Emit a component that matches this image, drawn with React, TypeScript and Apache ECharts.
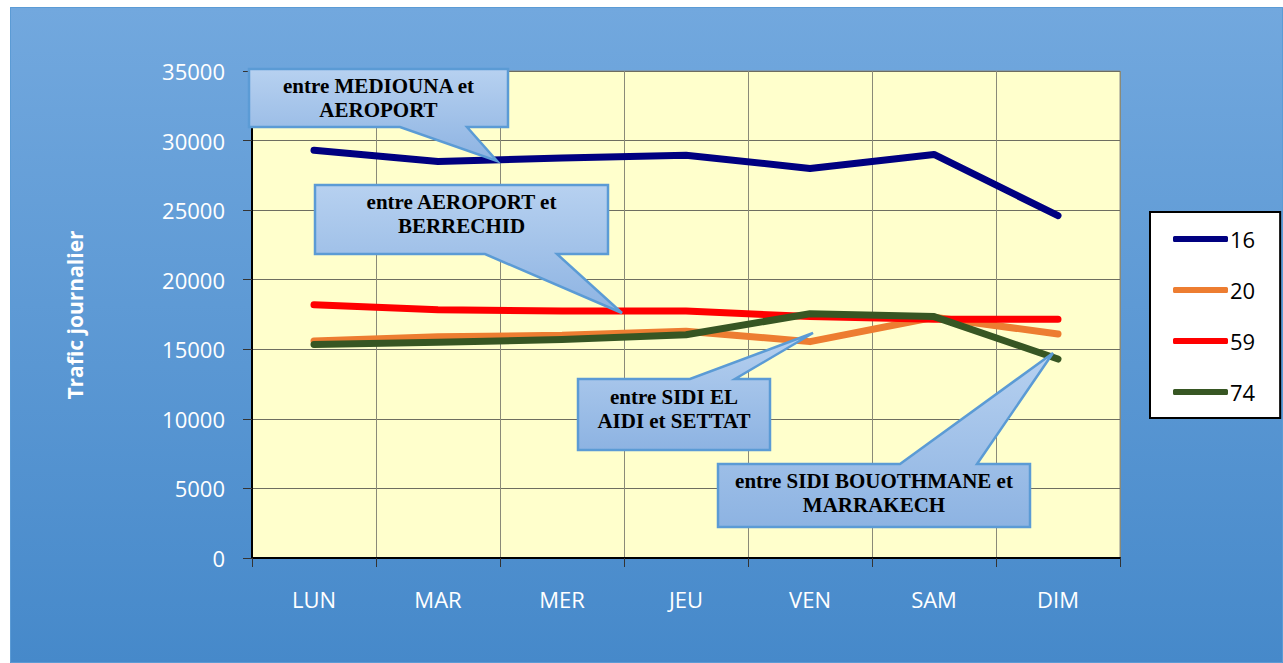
import React, { useEffect, useRef } from "react";
import * as echarts from "echarts";

const categories = ["LUN", "MAR", "MER", "JEU", "VEN", "SAM", "DIM"];
const seriesNames = ["16", "20", "59", "74"];
const values16 = [29300, 28500, 28750, 28950, 28000, 29000, 24600];
const values20 = [15600, 15900, 16000, 16300, 15550, 17300, 16100];
const values59 = [18200, 17850, 17750, 17750, 17350, 17150, 17150];
const values74 = [15350, 15500, 15700, 16050, 17550, 17350, 14300];
const colors = ["#000080", "#ED7D31", "#FF0000", "#375623"];
const yTicks = { min: 0, max: 35000, interval: 5000 };

const calloutTexts = [
  "entre MEDIOUNA et\nAEROPORT",
  "entre AEROPORT et\nBERRECHID",
  "entre SIDI EL\nAIDI et SETTAT",
  "entre SIDI BOUOTHMANE et\nMARRAKECH",
];

export default function App() {
  const ref = useRef<HTMLDivElement>(null);
  useEffect(() => {
    if (!ref.current) return;
    const chart = echarts.init(ref.current, undefined, { renderer: "svg" });
    const fill = new echarts.graphic.LinearGradient(0, 0, 0, 1, [
      { offset: 0, color: "#b7d1f0" },
      { offset: 1, color: "#8db3e2" },
    ]);
    const calloutShapes: number[][][] = [
      [[239, 62], [498, 62], [498, 120], [457, 120], [487, 154], [390, 120], [239, 120]],
      [[305, 178], [598, 178], [598, 247], [547, 247], [612, 306], [475, 247], [305, 247]],
      [[568, 372], [680, 372], [803, 326], [725, 372], [760, 372], [760, 443], [568, 443]],
      [[708, 457], [890, 457], [1043, 346], [967, 457], [1020, 457], [1020, 520], [708, 520]],
    ];
    const textPos = [
      [368.5, 91],
      [451.5, 207],
      [664, 402],
      [864, 486],
    ];
    const graphics: any[] = [];
    calloutShapes.forEach((pts, i) => {
      graphics.push({
        type: "polygon",
        shape: { points: pts },
        style: { fill, stroke: "#5b9bd5", lineWidth: 2.5 },
        z: 100,
      });
      graphics.push({
        type: "text",
        x: textPos[i][0],
        y: textPos[i][1],
        style: {
          text: calloutTexts[i],
          fill: "#000",
          font: "bold 21px 'Liberation Serif', 'Times New Roman', serif",
          textAlign: "center",
          textVerticalAlign: "middle",
          lineHeight: 24,
        },
        z: 101,
      });
    });
    graphics.push({
      type: "text",
      x: 65,
      y: 308,
      rotation: Math.PI / 2,
      style: {
        text: "Trafic journalier",
        fill: "#fff",
        font: "bold 21px 'Open Sans', sans-serif",
        textAlign: "center",
        textVerticalAlign: "middle",
      },
    });
    graphics.push({
      type: "rect",
      shape: { x: 0.5, y: 0.5, width: 1272, height: 655 },
      style: { fill: "none", stroke: "#5b9bd5", lineWidth: 1 },
      z: -1,
    });

    const data = [values16, values20, values59, values74];
    chart.setOption({
      animation: false,
      backgroundColor: new echarts.graphic.LinearGradient(0, 0, 0, 1, [
        { offset: 0, color: "#72a8de" },
        { offset: 1, color: "#4689ca" },
      ]),
      grid: {
        left: 242,
        top: 64,
        width: 868,
        height: 487,
        show: true,
        backgroundColor: "#FFFFCC",
        borderColor: "#8c8c8c",
        borderWidth: 1,
      },
      legend: {
        orient: "vertical",
        left: 1140,
        top: 205,
        data: seriesNames,
        icon: "roundRect",
        itemWidth: 55,
        itemHeight: 6,
        itemGap: 27,
        padding: [15, 25, 14, 23],
        backgroundColor: "#fff",
        borderColor: "#000",
        borderWidth: 2,
        textStyle: { color: "#000", fontSize: 22, fontFamily: "'Open Sans', sans-serif", lineHeight: 24, padding: [0, 0, 0, -3] },
      },
      xAxis: {
        type: "category",
        data: categories,
        boundaryGap: true,
        axisLine: { lineStyle: { color: "#000", width: 2 } },
        axisTick: { show: true, length: 9, lineStyle: { color: "#333" } },
        axisLabel: { color: "#fff", fontSize: 22, fontFamily: "'Open Sans', sans-serif", margin: 30 },
        splitLine: { show: true, lineStyle: { color: "#8a8a78", width: 1 } },
      },
      yAxis: {
        type: "value",
        min: yTicks.min,
        max: yTicks.max,
        interval: yTicks.interval,
        axisLine: { show: true, lineStyle: { color: "#000", width: 2 } },
        axisTick: { show: true, length: 9, lineStyle: { color: "#333" } },
        axisLabel: {
          color: "#fff",
          fontSize: 22,
          fontFamily: "'Open Sans', sans-serif",
          margin: 27,
          formatter: (v: number) => String(v),
        },
        splitLine: { show: true, lineStyle: { color: "#6e6e60", width: 1 } },
      },
      series: seriesNames.map((name, i) => ({
        name,
        type: "line",
        data: data[i],
        showSymbol: false,
        symbol: "none",
        color: colors[i],
        lineStyle: { color: colors[i], width: 7, cap: "round", join: "round" },
        z: 2 + i,
      })),
      graphic: graphics,
    });
    return () => chart.dispose();
  }, []);
  return (
    <div
      ref={ref}
      style={{ position: "absolute", left: 10, top: 7, width: 1273, height: 656 }}
    />
  );
}
